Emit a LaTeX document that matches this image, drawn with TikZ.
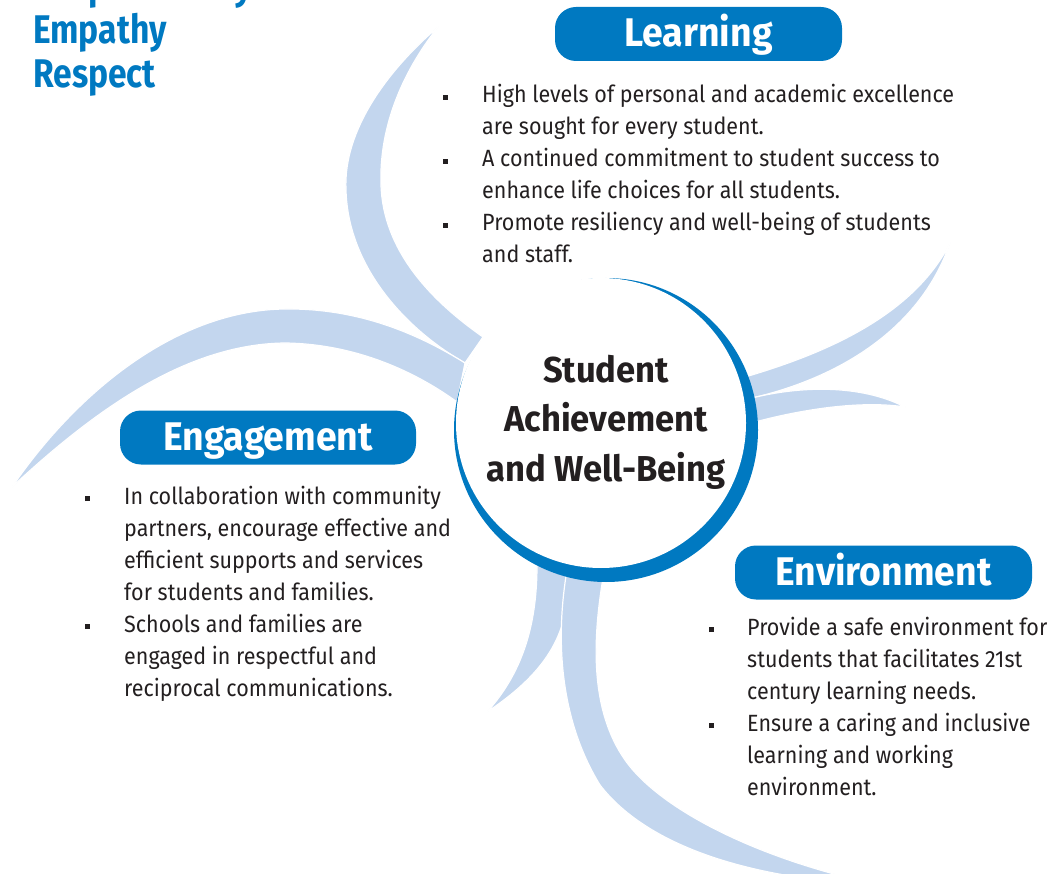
\documentclass[tikz,border=0pt]{standalone}
\usepackage{fontspec}
\setmainfont{Fira Sans}[FakeStretch=0.915]
\newfontfamily\headfont{Fira Sans}[FakeStretch=0.935]
\newfontfamily\hubfont{Fira Sans}[FakeStretch=0.96]
\newfontfamily\valuefont{Fira Sans}[FakeStretch=0.84]
\definecolor{armblue}{HTML}{C3D6EE}
\definecolor{brandblue}{HTML}{0079C1}
\definecolor{inkgray}{HTML}{231F20}
\newcommand{\sqbullet}{\rule[3pt]{5pt}{5pt}}
\tikzset{
  arm/.style={fill=armblue, draw=white, line width=1.2pt},
  pill/.style={rectangle, rounded corners=21pt, fill=brandblue, text=white,
    font=\headfont\bfseries\fontsize{40}{40}\selectfont, inner xsep=0pt, inner ysep=0pt,
    text height=40pt, text depth=14pt},
  bodytext/.style={text=inkgray, font=\fontsize{23.5}{32}\selectfont,
    inner sep=0pt, anchor=base west},
  valuetext/.style={text=brandblue, font=\valuefont\bfseries\fontsize{40}{44}\selectfont,
    inner sep=0pt, anchor=base west},
  centertext/.style={text=inkgray, font=\hubfont\bfseries\fontsize{36}{50}\selectfont,
    inner sep=0pt, anchor=base},
}
\begin{document}
\begin{tikzpicture}[x=1pt,y=-1pt]
\useasboundingbox (0,0) rectangle (1060,874);
\clip (0,0) rectangle (1060,874);

% --- swirl arms ---
% upper-left arm
\path[arm] (438,27) .. controls (388,70) and (343,130) .. (346,190)
  .. controls (348,270) and (410,332) .. (465,363) -- (483,337)
  .. controls (430,300) and (383,250) .. (381,185)
  .. controls (379,130) and (400,75) .. (438,27) -- cycle;
% left arm
\path[arm] (12,487) .. controls (80,388) and (180,310) .. (285,309)
  .. controls (360,308) and (420,335) .. (465,363) -- (457,402)
  .. controls (420,375) and (360,344) .. (285,343)
  .. controls (190,344) and (100,405) .. (12,487) -- cycle;
% right arm, long
\path[arm] (745,377) .. controls (820,355) and (912,318) .. (950,243)
  .. controls (918,335) and (830,380) .. (752,398) -- (735,400) -- (730,378) -- cycle;
% right arm, short
\path[arm] (752,398) .. controls (800,386) and (860,384) .. (905,407)
  .. controls (860,400) and (800,410) .. (755,422) -- (735,420) -- (735,400) -- cycle;
% lower arm, short
\path[arm] (537,555) -- (537,565) .. controls (537,620) and (525,670) .. (487,712)
  .. controls (550,670) and (570,630) .. (568,575) -- (568,560) -- cycle;
% lower arm, long
\path[arm] (567,560) -- (567,570) .. controls (555,640) and (560,720) .. (600,785)
  .. controls (650,850) and (760,880) .. (880,885)
  .. controls (760,860) and (660,810) .. (625,760)
  .. controls (590,710) and (592,640) .. (604,572) -- (604,560) -- cycle;

% --- central hub ---
\node[circle, fill=brandblue, minimum size=304pt, inner sep=0pt] (ring) at (606,430) {};
\node[circle, fill=white, minimum size=290pt, inner sep=0pt] (face) at (601,423) {};
\node[centertext] (core) at (606,382)
  {\begin{tabular}[t]{@{}c@{}}Student\\Achievement\\and Well-Being\end{tabular}};

% --- values ---
\node[valuetext] (resp) at (33,0) {Responsibility};
\node[valuetext] (empathy) at (33,44) {Empathy};
\node[valuetext] (respect) at (33,88) {Respect};

% --- headings ---
\node[pill, minimum width=287pt] (learning) at (698.5,34) {Learning};
\node[pill, minimum width=296pt] (engagement) at (268,437.5) {Engagement};
\node[pill, minimum width=297pt] (environment) at (883.5,572.5) {Environment};

% --- goal lists ---
\node[bodytext] (learnlist) at (443,103) {\begin{tabular}[t]{@{}p{39pt}@{}l@{}}
\sqbullet & High levels of personal and academic excellence\\
 & are sought for every student.\\
\sqbullet & A continued commitment to student success to\\
 & enhance life choices for all students.\\
\sqbullet & Promote resiliency and well-being of students\\
 & and staff.
\end{tabular}};

\node[bodytext] (engagelist) at (85,504) {\begin{tabular}[t]{@{}p{39pt}@{}l@{}}
\sqbullet & In collaboration with community\\
 & partners, encourage effective and\\
 & efficient supports and services\\
 & for students and families.\\
\sqbullet & Schools and families are\\
 & engaged in respectful and\\
 & reciprocal communications.
\end{tabular}};

\node[bodytext] (envlist) at (709,635) {\begin{tabular}[t]{@{}p{38pt}@{}l@{}}
\sqbullet & Provide a safe environment for\\
 & students that facilitates 21st\\
 & century learning needs.\\
\sqbullet & Ensure a caring and inclusive\\
 & learning and working\\
 & environment.
\end{tabular}};
\end{tikzpicture}
\end{document}
